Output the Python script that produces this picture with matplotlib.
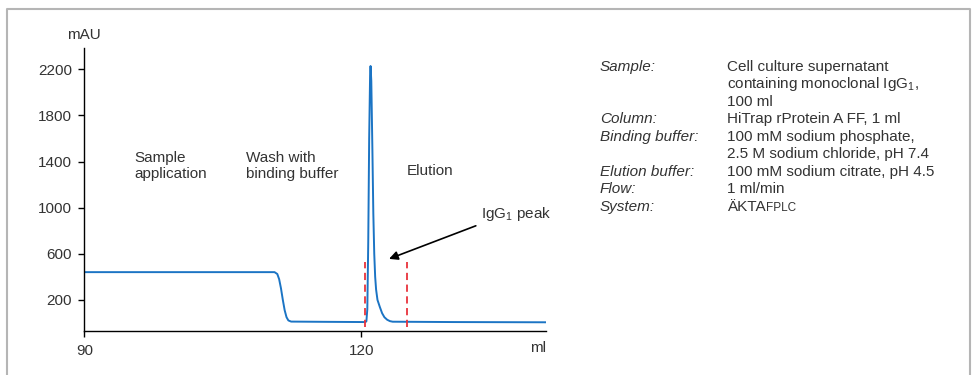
import matplotlib
matplotlib.use("Agg")
import matplotlib.pyplot as plt
from matplotlib.lines import Line2D

plt.rcParams['font.family'] = ['Liberation Sans', 'DejaVu Sans']
plt.rcParams['mathtext.fontset'] = 'custom'
plt.rcParams['mathtext.rm'] = 'Liberation Sans'
plt.rcParams['mathtext.it'] = 'Liberation Sans:italic'

# ---- data ----
volume_ml = [90.0, 110.6, 110.9, 111.1, 111.3, 111.5, 111.7, 111.9, 112.1, 112.4,
             116.0, 120.45, 120.55, 120.65, 120.75, 120.85, 120.95, 121.0, 121.08,
             121.2, 121.3, 121.4, 121.5, 121.6, 121.75, 122.0, 122.25, 122.5, 122.8,
             123.1, 123.4, 130.0, 140.0]
absorbance_mau = [441, 441, 425, 380, 300, 200, 110, 50, 22, 12,
                  10, 8, 15, 120, 700, 1600, 2150, 2229, 2100,
                  1500, 950, 600, 400, 290, 200, 140, 85, 50, 28,
                  16, 11, 8, 6]

fraction_marks_ml = [120.36, 124.9]
fraction_mark_range = [-35, 533]

x_ticks = [90, 120]
y_ticks = [200, 600, 1000, 1400, 1800, 2200]

phase_labels = ["Sample\napplication", "Wash with\nbinding buffer", "Elution"]
phase_x = [95.4, 107.5, 124.9]
phase_y = [1360, 1360, 1320]

peak_label = "IgG$_1$ peak"

info_labels = ["Sample:", "", "", "Column:", "Binding buffer:", "",
               "Elution buffer:", "Flow:", "System:"]
info_values = ["Cell culture supernatant", "containing monoclonal IgG$_1$,", "100 ml",
               "HiTrap rProtein A FF, 1 ml", "100 mM sodium phosphate,",
               "2.5 M sodium chloride, pH 7.4", "100 mM sodium citrate, pH 4.5",
               "1 ml/min", "ÄKTA"]
system_suffix = "FPLC"

# ---- figure ----
W, H = 974, 375
fig = plt.figure(figsize=(W / 100, H / 100), dpi=100)
TXT = '#333333'

# frame around the figure
fx = lambda px: px / W
fy = lambda py: 1 - py / H
fig.add_artist(Line2D([fx(6.5), fx(6.5), fx(970), fx(970)],
                      [0, fy(9), fy(9), 0], transform=fig.transFigure,
                      color='#b5b5b5', lw=1.5))

ax = fig.add_axes([fx(84.3), 44.3 / H, (546 - 84.3) / W, (330.7 - 47.7) / H])
ax.plot(volume_ml, absorbance_mau, color='#1b74c4', lw=1.4, solid_joinstyle='round')
for xm in fraction_marks_ml:
    ax.plot([xm, xm], fraction_mark_range, color='#e8333b', lw=1.3,
            dashes=(4, 2.5))

ax.set_xlim(90, 140)
ax.set_ylim(-67, 2388)
ax.set_xticks(x_ticks)
ax.set_yticks(y_ticks)
for s in ['top', 'right']:
    ax.spines[s].set_visible(False)
for s in ['left', 'bottom']:
    ax.spines[s].set_linewidth(1.0)
ax.tick_params(axis='both', direction='out', length=4.5, width=1.0,
               labelsize=11, labelcolor=TXT, colors='black')
ax.tick_params(axis='y', pad=4.5)
ax.tick_params(axis='x', pad=5)
for lab in ax.get_xticklabels() + ax.get_yticklabels():
    lab.set_color(TXT)

ax.annotate("mAU", xy=(0, 1), xycoords='axes fraction', xytext=(0, 9),
            textcoords='offset points', ha='center', va='center',
            fontsize=11, color=TXT)
ax.annotate("ml", xy=(1, 0), xycoords='axes fraction', xytext=(0, -12.5),
            textcoords='offset points', ha='right', va='center',
            fontsize=11, color=TXT)

for t, x, y in zip(phase_labels, phase_x, phase_y):
    ax.text(x, y, t, ha='left', va='center', fontsize=11, color=TXT,
            linespacing=1.15)

ax.annotate("", xy=(123.0, 556), xytext=(132.4, 843),
            arrowprops=dict(arrowstyle='-|>', color='black', lw=1.2,
                            mutation_scale=13, shrinkA=0, shrinkB=0))
ax.text(133.0, 945, peak_label, ha='left', va='center', fontsize=11, color=TXT)

# ---- info panel ----
row0, step = 70.5, 17.55
last = None
for i, (lab, val) in enumerate(zip(info_labels, info_values)):
    yb = fy(row0 + i * step)
    if lab:
        fig.text(fx(600), yb, lab, ha='left', va='baseline', fontsize=11,
                 style='italic', color=TXT)
    last = fig.text(fx(727), yb, val, ha='left', va='baseline', fontsize=11,
                    color=TXT)
fig.canvas.draw()
bb = last.get_window_extent()
fig.text(bb.x1 / W, last.get_position()[1], system_suffix, ha='left',
         va='baseline', fontsize=8.5, color=TXT)

fig.savefig("out.png", dpi=100)
